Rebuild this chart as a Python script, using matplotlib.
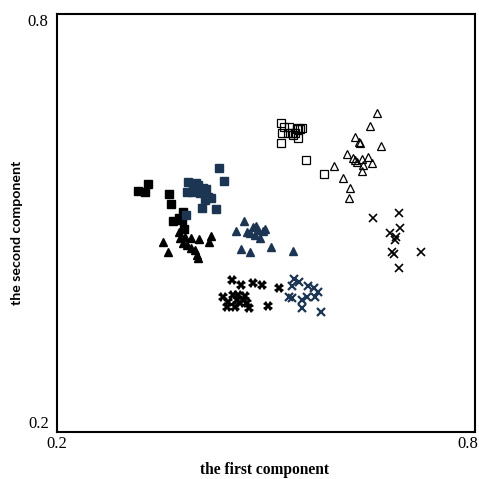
import matplotlib
matplotlib.use("Agg")
import matplotlib.pyplot as plt
from matplotlib.transforms import ScaledTranslation

# Black filled squares
sq_black_x = [0.3162, 0.3263, 0.3306, 0.3607, 0.3636, 0.3808, 0.3794, 0.3665, 0.3823, 0.3751]
sq_black_y = [0.5458, 0.5444, 0.5559, 0.5415, 0.5272, 0.5157, 0.5042, 0.5028, 0.4913, 0.5071]
# Navy filled squares
sq_navy_x = [0.4325, 0.4396, 0.3880, 0.3952, 0.4023, 0.4095, 0.4052, 0.4167, 0.4210, 0.4124,
             0.4081, 0.4282, 0.3866, 0.3937, 0.3851, 0.3995, 0.4138]
sq_navy_y = [0.5788, 0.5602, 0.5588, 0.5516, 0.5544, 0.5501, 0.5430, 0.5372, 0.5358, 0.5329,
             0.5214, 0.5200, 0.5444, 0.5444, 0.5114, 0.5573, 0.5487]
# Black filled triangles
tri_black_x = [0.3521, 0.3593, 0.3751, 0.3765, 0.3837, 0.3923, 0.4038, 0.4210, 0.4181, 0.3866,
               0.3923, 0.3980, 0.4009, 0.4023, 0.3808]
tri_black_y = [0.4727, 0.4583, 0.4870, 0.4784, 0.4798, 0.4784, 0.4770, 0.4813, 0.4727, 0.4683,
               0.4640, 0.4612, 0.4540, 0.4497, 0.4712]
# Navy filled triangles
tri_navy_x = [0.4683, 0.4569, 0.4727, 0.4813, 0.4884, 0.4956, 0.4841, 0.4913, 0.4770, 0.4640,
              0.4770, 0.5071, 0.5387, 0.4985, 0.4856]
tri_navy_y = [0.5028, 0.4884, 0.4870, 0.4942, 0.4899, 0.4884, 0.4827, 0.4784, 0.4856, 0.4626,
              0.4583, 0.4655, 0.4597, 0.4913, 0.4956]
# Black bold X
xb_black_x = [0.4511, 0.4640, 0.4813, 0.4942, 0.5186, 0.4382, 0.4454, 0.4526, 0.4583, 0.4626,
              0.4669, 0.4727, 0.4755, 0.4554, 0.4440, 0.5028, 0.4597, 0.4698]
xb_black_y = [0.4181, 0.4109, 0.4138, 0.4109, 0.4066, 0.3937, 0.3866, 0.3966, 0.3894, 0.3851,
              0.3894, 0.3851, 0.3779, 0.3794, 0.3794, 0.3808, 0.3966, 0.3952]
# Navy x
x_navy_x = [0.5401, 0.5473, 0.5372, 0.5602, 0.5688, 0.5745, 0.5372, 0.5516, 0.5588, 0.5516,
            0.5702, 0.5788, 0.5329]
x_navy_y = [0.4196, 0.4152, 0.4095, 0.4095, 0.4066, 0.4009, 0.3923, 0.3894, 0.3937, 0.3779,
            0.3937, 0.3722, 0.3937]
# Open squares
sq_open_x = [0.5214, 0.5257, 0.5229, 0.5329, 0.5372, 0.5415, 0.5444, 0.5458, 0.5487, 0.5516,
             0.5458, 0.5214, 0.5573, 0.5831, 0.5387, 0.5315]
sq_open_y = [0.6434, 0.6377, 0.6291, 0.6377, 0.6291, 0.6291, 0.6348, 0.6362, 0.6348, 0.6362,
             0.6219, 0.6147, 0.5903, 0.5702, 0.6262, 0.6291]
# Open triangles
tri_open_x = [0.6592, 0.6492, 0.6276, 0.6348, 0.6649, 0.6162, 0.6248, 0.6305, 0.6377, 0.6463,
              0.6520, 0.6391, 0.6377, 0.5975, 0.6104, 0.6205, 0.6190, 0.6334, 0.6276]
tri_open_y = [0.6578, 0.6391, 0.6233, 0.6147, 0.6104, 0.5989, 0.5932, 0.5875, 0.5918, 0.5946,
              0.5860, 0.5831, 0.5745, 0.5817, 0.5645, 0.5501, 0.5358, 0.6162, 0.5903]
# Black thin x
x_black_x = [0.6535, 0.6908, 0.6922, 0.6779, 0.6865, 0.6851, 0.6807, 0.6836, 0.7223, 0.6908]
x_black_y = [0.5071, 0.5143, 0.4927, 0.4856, 0.4798, 0.4755, 0.4583, 0.4554, 0.4583, 0.4353]

xlim = [0.2, 0.8]
ylim = [0.2, 0.8]
tick_labels = ["0.2", "0.8"]

navy = "#1c3552"

fig = plt.figure(figsize=(4.79, 4.79), dpi=100)
ax = fig.add_axes([0.119, 0.098, 0.873, 0.873])

ms = 5.8
ax.plot(sq_black_x, sq_black_y, ls="none", marker="s", ms=ms, color="black")
ax.plot(sq_navy_x, sq_navy_y, ls="none", marker="s", ms=ms, color=navy)
ax.plot(tri_black_x, tri_black_y, ls="none", marker="^", ms=6.4, color="black")
ax.plot(tri_navy_x, tri_navy_y, ls="none", marker="^", ms=6.4, color=navy)
ax.plot(xb_black_x, xb_black_y, ls="none", marker="X", ms=6.5, color="black", mew=0)
ax.plot(x_navy_x, x_navy_y, ls="none", marker="x", ms=5.5, color=navy, mew=1.6)
ax.plot(sq_open_x, sq_open_y, ls="none", marker="s", ms=5.2, mfc="none", mec="black", mew=0.9)
ax.plot(tri_open_x, tri_open_y, ls="none", marker="^", ms=6.2, mfc="none", mec="black", mew=0.9)
ax.plot(x_black_x, x_black_y, ls="none", marker="x", ms=5.5, color="black", mew=1.2)

ax.set_xlim(xlim)
ax.set_ylim(ylim)
ax.set_xticks(xlim)
ax.set_yticks(ylim)
xt = ax.set_xticklabels(tick_labels, family="Liberation Serif", fontsize=12)
yt = ax.set_yticklabels(tick_labels, family="Liberation Serif", fontsize=12)
ax.tick_params(axis="x", length=0, pad=3)
ax.tick_params(axis="y", length=0, pad=6)
xt[1].set_horizontalalignment("right")
xt[1].set_transform(xt[1].get_transform() + ScaledTranslation(3 / 100, 0, fig.dpi_scale_trans))
yt[0].set_verticalalignment("bottom")
yt[1].set_verticalalignment("top")
for s in ax.spines.values():
    s.set_linewidth(1.5)

fig.text(265 / 479, 1 - 462 / 479, "the first component", family="Liberation Serif",
         fontweight="bold", fontsize=11.2, ha="center", va="top")
fig.text(17 / 479, 1 - 233 / 479, "the second component", family="Lato", fontweight="bold",
         fontsize=10.2, rotation=90, ha="center", va="center")

fig.savefig("out.png", dpi=100)
